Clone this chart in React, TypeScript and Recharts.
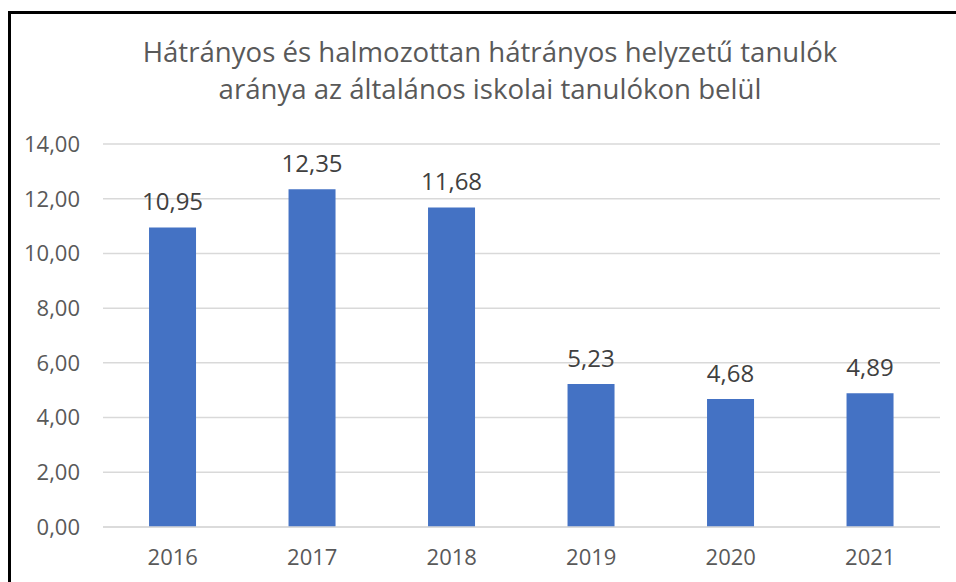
import React from "react";
import {
  BarChart,
  Bar,
  XAxis,
  YAxis,
  CartesianGrid,
  LabelList,
} from "recharts";

const years = ["2016", "2017", "2018", "2019", "2020", "2021"];
const shares = [10.95, 12.35, 11.68, 5.23, 4.68, 4.89];
const yTicks = [0, 2, 4, 6, 8, 10, 12, 14];
const titleLines = [
  "Hátrányos és halmozottan hátrányos helyzetű tanulók",
  "aránya az általános iskolai tanulókon belül",
];

const data = years.map((year, i) => ({ year, value: shares[i] }));

const fmt = (v: number) => v.toFixed(2).replace(".", ",");
const FONT = "'Open Sans', 'Noto Sans', sans-serif";
const GREY = "#595959";

const App = () => {
  return (
    <div
      style={{
        position: "absolute",
        left: 0,
        top: 0,
        width: 956,
        height: 582,
        overflow: "hidden",
        background: "#fff",
        fontFamily: FONT,
      }}
    >
      <div
        style={{
          position: "absolute",
          left: 8,
          top: 11,
          width: 1000,
          height: 700,
          borderLeft: "3px solid #000",
          borderTop: "3px solid #000",
        }}
      />
      <div
        style={{
          position: "absolute",
          left: 0,
          top: 33,
          width: 980,
          textAlign: "center",
          color: GREY,
          fontSize: 27.6,
          lineHeight: "37px",
        }}
      >
        {titleLines.map((t) => (
          <div key={t}>{t}</div>
        ))}
      </div>
      <div style={{ position: "absolute", left: 0, top: 0 }}>
        <BarChart
          width={956}
          height={582}
          data={data}
          margin={{ top: 144, right: 16, bottom: 25, left: 8 }}
          barCategoryGap="33%"
        >
          <CartesianGrid stroke="#D9D9D9" strokeWidth={1.5} vertical={false} />
          <XAxis
            dataKey="year"
            height={30}
            axisLine={{ stroke: "#D9D9D9", strokeWidth: 1.5 }}
            tickLine={false}
            tickMargin={16}
            tick={{ fill: GREY, fontSize: 22, fontFamily: FONT }}
          />
          <YAxis
            width={95}
            domain={[0, 14]}
            ticks={yTicks}
            axisLine={false}
            tickLine={false}
            tickMargin={17}
            tickFormatter={fmt}
            tick={{ fill: GREY, fontSize: 22, fontFamily: FONT }}
          />
          <Bar dataKey="value" fill="#4472C4" isAnimationActive={false}>
            <LabelList
              dataKey="value"
              position="top"
              offset={17}
              formatter={(v: number) => fmt(v)}
              style={{ fill: "#404040", fontSize: 24, fontFamily: FONT }}
            />
          </Bar>
        </BarChart>
      </div>
    </div>
  );
};

export default App;
